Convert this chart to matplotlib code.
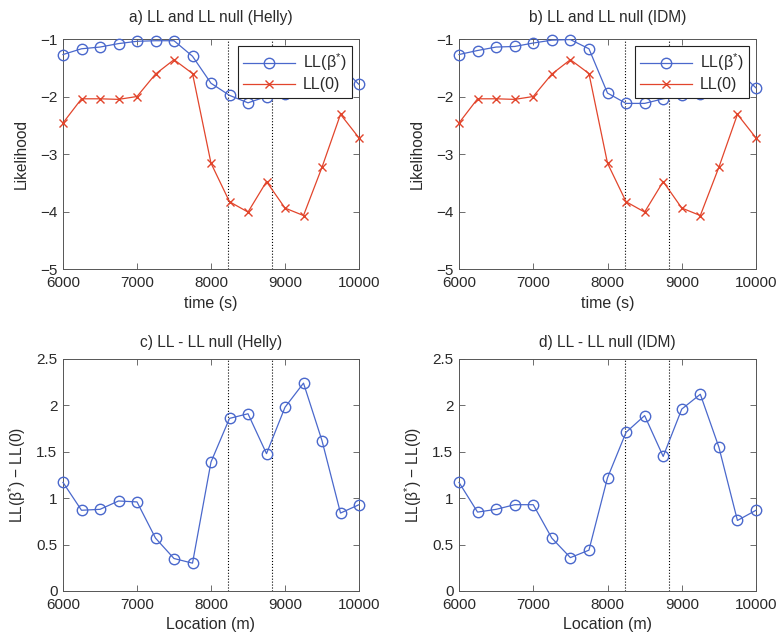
import matplotlib
matplotlib.use("Agg")
import matplotlib.pyplot as plt
import numpy as np

plt.rcParams['font.family'] = ['Liberation Sans', 'DejaVu Sans']
plt.rcParams['mathtext.fontset'] = 'custom'
plt.rcParams['mathtext.rm'] = 'Liberation Sans'
plt.rcParams['mathtext.it'] = 'Liberation Sans'

x = [6000, 6250, 6500, 6750, 7000, 7250, 7500, 7750, 8000,
     8250, 8500, 8750, 9000, 9250, 9500, 9750, 10000]

ll_beta_helly = [-1.27, -1.17, -1.14, -1.08, -1.04, -1.03, -1.03, -1.30, -1.77,
                 -1.98, -2.11, -2.00, -1.96, -1.83, -1.61, -1.47, -1.79]
ll_null_helly = [-2.46, -2.04, -2.04, -2.05, -2.00, -1.61, -1.36, -1.60, -3.16,
                 -3.83, -4.01, -3.48, -3.94, -4.07, -3.23, -2.31, -2.72]
ll_beta_idm = [-1.27, -1.20, -1.14, -1.13, -1.07, -1.02, -1.01, -1.17, -1.94,
               -2.12, -2.12, -2.04, -1.98, -1.95, -1.68, -1.55, -1.85]
ll_null_idm = [-2.46, -2.04, -2.04, -2.05, -2.00, -1.61, -1.36, -1.60, -3.16,
               -3.83, -4.01, -3.48, -3.94, -4.07, -3.23, -2.31, -2.72]
diff_helly = [1.17, 0.87, 0.88, 0.97, 0.96, 0.57, 0.35, 0.30, 1.39,
              1.86, 1.91, 1.48, 1.98, 2.24, 1.62, 0.84, 0.93]
diff_idm = [1.17, 0.85, 0.88, 0.93, 0.93, 0.57, 0.36, 0.44, 1.22,
            1.71, 1.89, 1.45, 1.96, 2.12, 1.55, 0.76, 0.87]

vlines = [8230, 8830]
titles = ["a) LL and LL null (Helly)", "b) LL and LL null (IDM)",
          "c) LL - LL null (Helly)", "d) LL - LL null (IDM)"]

W, H = 779, 632
fig = plt.figure(figsize=(W / 100, H / 100), dpi=100)

def mk(l, r, t, b):
    return fig.add_axes([l / W, 1 - b / H, (r - l) / W, (b - t) / H])

BLUE = '#4a68cc'
RED = '#e2452c'
TXT = '#2a2a2a'
FRAME = '#555555'

axes = [mk(63, 359, 39, 269), mk(459, 756, 39, 269),
        mk(63, 359, 359, 591), mk(459, 756, 359, 591)]

def style(ax):
    ax.tick_params(direction='in', top=True, right=True, length=4,
                   width=0.6, colors=FRAME, labelcolor=TXT, labelsize=11)
    ax.tick_params(axis='x', pad=5)
    ax.tick_params(axis='y', pad=4)
    for s in ax.spines.values():
        s.set_color(FRAME)
        s.set_linewidth(0.7)
    ax.set_xlim(6000, 10000)
    ax.set_xticks([6000, 7000, 8000, 9000, 10000])

mkw = dict(markersize=7.5, markerfacecolor='none', linewidth=0.9, clip_on=False, zorder=3)

for ax, beta, null, t in [(axes[0], ll_beta_helly, ll_null_helly, titles[0]),
                          (axes[1], ll_beta_idm, ll_null_idm, titles[1])]:
    style(ax)
    for v in vlines:
        ax.axvline(v, color='k', linestyle=':', linewidth=0.8)
    ax.plot(x, beta, 'o-', color=BLUE, markeredgecolor=BLUE, label='LL(β$^{*}$)', **mkw)
    ax.plot(x, null, 'x-', color=RED, markeredgecolor=RED, label='LL(0)',
            markersize=6, linewidth=0.9, clip_on=False, zorder=3)
    ax.set_ylim(-5, -1)
    ax.set_yticks([-5, -4, -3, -2, -1])
    ax.set_yticklabels(['\u22125', '\u22124', '\u22123', '\u22122', '\u22121'])
    ax.set_title(t, fontsize=11.2, color=TXT, pad=12)
    ax.set_xlabel('time (s)', fontsize=11.5, color=TXT, labelpad=4)
    ax.set_ylabel('Likelihood', fontsize=11.2, color=TXT, labelpad=8)
    leg = ax.legend(loc='upper right', fontsize=11.5, fancybox=False,
                    edgecolor='#222222', framealpha=1, borderaxespad=0.45,
                    handlelength=3.2, labelspacing=0.25, borderpad=0.35,
                    handletextpad=0.5)
    leg.set_zorder(5)
    leg.get_frame().set_linewidth(0.8)
    for txt in leg.get_texts():
        txt.set_color(TXT)

for ax, d, t in [(axes[2], diff_helly, titles[2]), (axes[3], diff_idm, titles[3])]:
    style(ax)
    for v in vlines:
        ax.axvline(v, color='k', linestyle=':', linewidth=0.8)
    ax.plot(x, d, 'o-', color=BLUE, markeredgecolor=BLUE, **mkw)
    ax.set_ylim(0, 2.5)
    ax.set_yticks([0, 0.5, 1, 1.5, 2, 2.5])
    ax.set_yticklabels(['0', '0.5', '1', '1.5', '2', '2.5'])
    ax.set_title(t, fontsize=11.2, color=TXT, pad=9)
    ax.set_xlabel('Location (m)', fontsize=11.5, color=TXT, labelpad=4)
    ax.set_ylabel('LL(β$^{*}$) \u2212 LL(0)', fontsize=11.2, color=TXT, labelpad=6)

fig.savefig('out.png', dpi=100)
